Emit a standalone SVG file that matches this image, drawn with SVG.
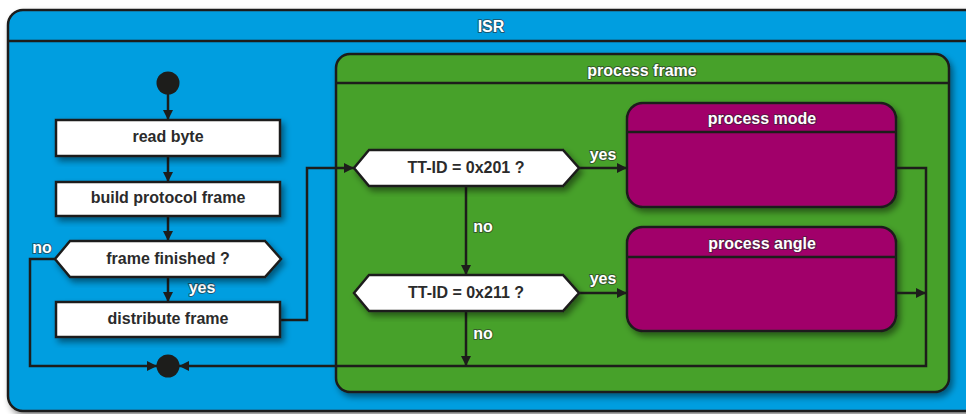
<svg xmlns="http://www.w3.org/2000/svg" width="966" height="414" viewBox="0 0 966 414">
  <defs>
    <filter id="shadow" x="-10%" y="-10%" width="130%" height="140%">
      <feDropShadow dx="3" dy="4" stdDeviation="3" flood-color="#000" flood-opacity="0.45"/>
    </filter>
    <marker id="arrow" markerUnits="userSpaceOnUse" markerWidth="10" markerHeight="10" refX="10" refY="5" orient="auto">
      <path d="M0,0 L10,5 L0,10 z" fill="#1d1d1b"/>
    </marker>
    <style>
      .frame { stroke: #1d1d1b; stroke-width: 2.5; }
      .isr { fill: #019ee0; }
      .pf { fill: #46a12b; }
      .sub { fill: #a1006b; }
      .divider { stroke: #1d1d1b; stroke-width: 2.5; fill: none; }
      .action { fill: #ffffff; stroke: #1d1d1b; stroke-width: 2.5; filter: url(#shadow); }
      .dot { fill: #1d1d1b; }
      .wire { fill: none; stroke: #1d1d1b; stroke-width: 2.5; }
      .arrowed { marker-end: url(#arrow); }
      .txt { font-family: "Liberation Sans", Arial, sans-serif; font-weight: bold; font-size: 16px; text-anchor: middle; }
      .dark { fill: #2b2b2b; }
      .light { fill: #ffffff; stroke: #2a2a2a; stroke-width: 2; stroke-opacity: 0.6; paint-order: stroke; stroke-linejoin: round; }
    </style>
  </defs>

  <!-- ISR container -->
  <g id="isr">
    <rect class="frame isr" x="8" y="10" width="975" height="401" rx="15" filter="url(#shadow)"/>
    <line class="divider" x1="8" y1="41" x2="966" y2="41"/>
    <text class="txt light" x="491" y="32">ISR</text>
  </g>

  <!-- process frame container -->
  <g id="process-frame">
    <rect class="frame pf" x="336" y="54" width="613" height="338" rx="14" filter="url(#shadow)"/>
    <line class="divider" x1="336" y1="83" x2="949" y2="83"/>
    <text class="txt light" x="642" y="76">process frame</text>
  </g>

  <g id="process-mode">
    <rect class="frame sub" x="627" y="103" width="269" height="104" rx="16" filter="url(#shadow)"/>
    <line class="divider" x1="627" y1="132" x2="896" y2="132"/>
    <text class="txt light" x="762" y="124">process mode</text>
  </g>

  <g id="process-angle">
    <rect class="frame sub" x="627" y="227" width="269" height="104" rx="16" filter="url(#shadow)"/>
    <line class="divider" x1="627" y1="257" x2="896" y2="257"/>
    <text class="txt light" x="762" y="249">process angle</text>
  </g>

  <!-- connectors -->
  <g id="connectors">
    <line class="wire arrowed" x1="168" y1="92" x2="168" y2="120"/>
    <line class="wire arrowed" x1="168" y1="156" x2="168" y2="182"/>
    <line class="wire arrowed" x1="168" y1="216" x2="168" y2="241"/>
    <line class="wire arrowed" x1="168" y1="277" x2="168" y2="302"/>
    <polyline class="wire arrowed" points="55,259 30,259 30,366 157,366"/>
    <polyline class="wire arrowed" points="280,320 307,320 307,168 354,168"/>
    <line class="wire arrowed" x1="579" y1="168" x2="627" y2="168"/>
    <line class="wire arrowed" x1="466" y1="186" x2="466" y2="275"/>
    <line class="wire arrowed" x1="579" y1="293" x2="627" y2="293"/>
    <line class="wire arrowed" x1="466" y1="311" x2="466" y2="366"/>
    <polyline class="wire arrowed" points="896,168 926,168 926,366 179,366"/>
    <line class="wire arrowed" x1="896" y1="293" x2="926" y2="293"/>
    <text class="txt light" x="42" y="253">no</text>
    <text class="txt light" x="202" y="293">yes</text>
    <text class="txt light" x="603" y="160">yes</text>
    <text class="txt light" x="483" y="232">no</text>
    <text class="txt light" x="603" y="284">yes</text>
    <text class="txt light" x="483" y="339">no</text>
  </g>

  <g id="start">
    <circle class="dot" cx="168" cy="83" r="11.5"/>
  </g>

  <g id="read-byte">
    <rect class="action" x="56" y="120" width="224" height="36"/>
    <text class="txt dark" x="168" y="142">read byte</text>
  </g>

  <g id="build-protocol-frame">
    <rect class="action" x="56" y="182" width="224" height="34"/>
    <text class="txt dark" x="168" y="203">build protocol frame</text>
  </g>

  <g id="frame-finished">
    <polygon class="action" points="55,259 70,241 265,241 281,259 265,277 70,277"/>
    <text class="txt dark" x="168" y="264">frame finished ?</text>
  </g>

  <g id="distribute-frame">
    <rect class="action" x="56" y="302" width="224" height="35"/>
    <text class="txt dark" x="168" y="324">distribute frame</text>
  </g>

  <g id="tt-id-201">
    <polygon class="action" points="354,168 369,150 563,150 579,168 563,186 369,186"/>
    <text class="txt dark" x="466" y="173">TT-ID = 0x201 ?</text>
  </g>

  <g id="tt-id-211">
    <polygon class="action" points="354,293 369,275 563,275 579,293 563,311 369,311"/>
    <text class="txt dark" x="466" y="298">TT-ID = 0x211 ?</text>
  </g>

  <g id="end">
    <circle class="dot" cx="168" cy="366" r="11.5"/>
  </g>
</svg>
